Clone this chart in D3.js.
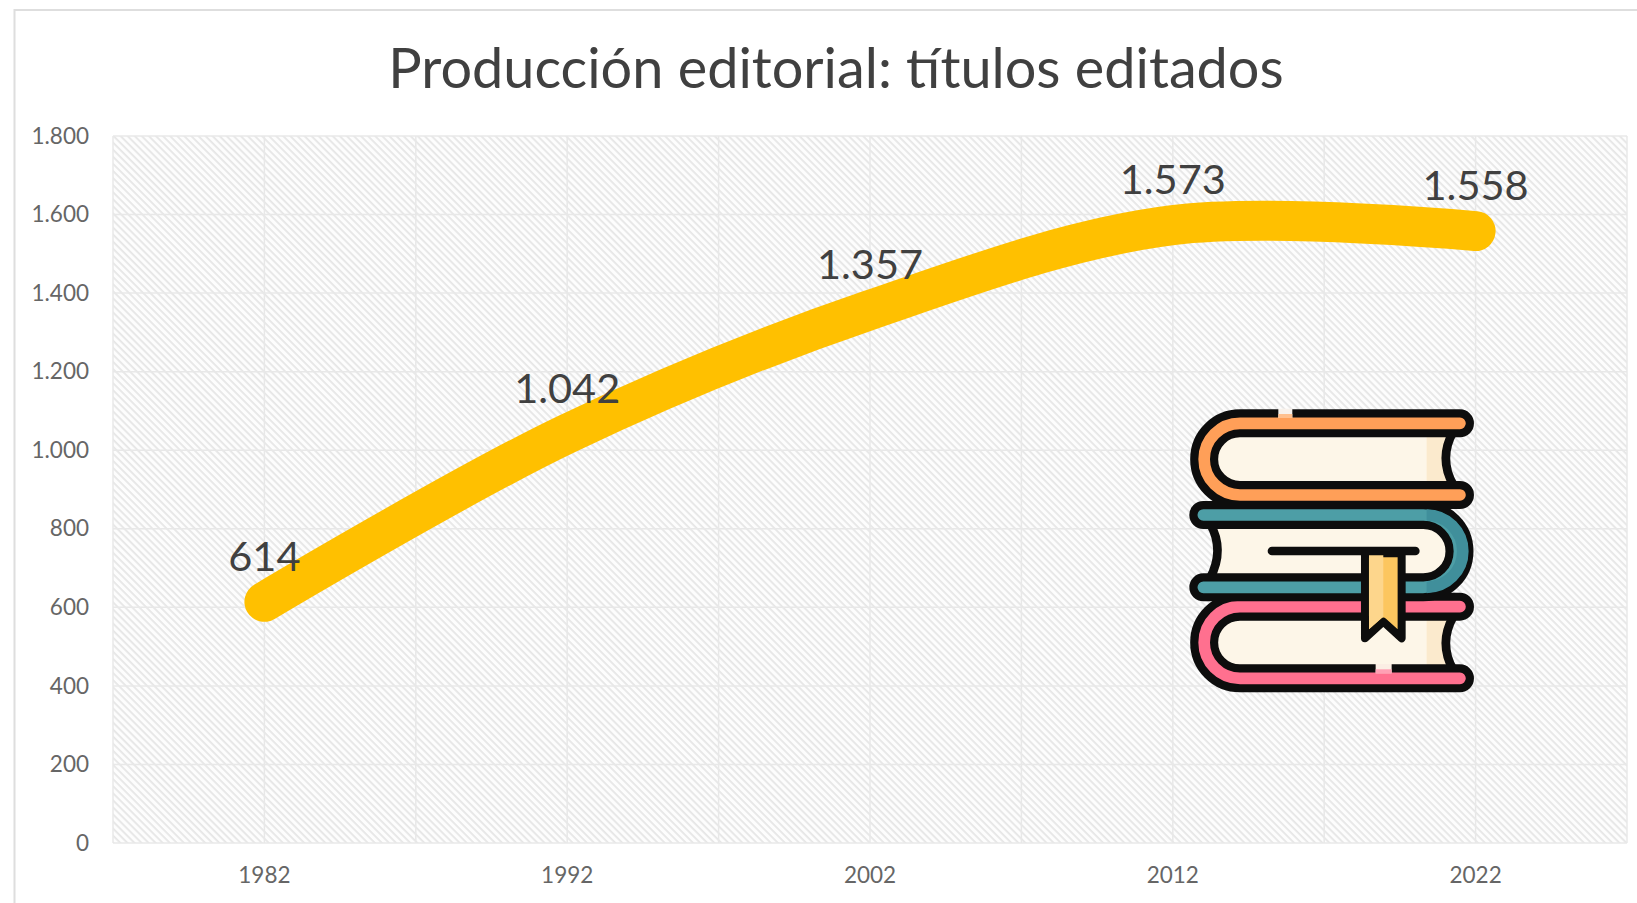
<!DOCTYPE html>
<html><head><meta charset="utf-8">
<script src="https://cdn.jsdelivr.net/npm/d3@7"></script>
<style>html,body{margin:0;background:#fff}svg{display:block}text{font-family:Lato,sans-serif}</style>
</head><body><svg id="c" width="1637" height="903"></svg>
<script>
const chartTitle = "Producción editorial: títulos editados";
const years = ["1982","1992","2002","2012","2022"];
const titles = [614,1042,1357,1573,1558];
const yTicks = [0,200,400,600,800,1000,1200,1400,1600,1800];

const L=113,R=1627,T=136,B=843;
const svg=d3.select("#c");
const fmt=d3.formatLocale({decimal:",",thousands:".",grouping:[3],currency:["","€"]}).format(",d");
const x=d3.scaleBand().domain(years).range([L,R]);
const cx=d=>x(d)+x.bandwidth()/2;
const y=d3.scaleLinear().domain([0,1800]).range([B,T]);

const defs=svg.append("defs");
const p=defs.append("pattern").attr("id","hatch").attr("width",5).attr("height",5)
  .attr("patternUnits","userSpaceOnUse").attr("patternTransform","rotate(45)");
p.append("rect").attr("width",5).attr("height",5).attr("fill","#fdfdfd");
p.append("rect").attr("width",5).attr("height",1.8).attr("fill","#e6e6e6");
defs.append("filter").attr("id","soft").append("feGaussianBlur").attr("stdDeviation",0.5);

svg.append("rect").attr("x",14.5).attr("y",10).attr("width",1700).attr("height",1000)
  .attr("fill","#fff").attr("stroke","#dedede").attr("stroke-width",2);

svg.append("rect").attr("x",L).attr("y",T).attr("width",R-L).attr("height",B-T).attr("fill","url(#hatch)");

// grid
const vGrid=[L,...years.map(cx),...years.map(d=>x(d)+x.bandwidth())];
svg.append("g").selectAll("line").data(vGrid).join("line")
  .attr("x1",d=>d).attr("x2",d=>d).attr("y1",T).attr("y2",B).attr("stroke","#e8e8e8").attr("stroke-width",1.5);
svg.append("g").selectAll("line").data(yTicks).join("line")
  .attr("x1",L).attr("x2",R).attr("y1",d=>y(d)).attr("y2",d=>y(d)).attr("stroke","#e8e8e8").attr("stroke-width",1.5);

// axes
const ya=svg.append("g").attr("transform",`translate(${L},0)`)
  .call(d3.axisLeft(y).tickValues(yTicks).tickSize(0).tickPadding(24).tickFormat(fmt));
ya.select(".domain").remove();
ya.selectAll("text").attr("font-size",22.5).attr("fill","#666").style("font-family","Lato,sans-serif");
const xa=svg.append("g").attr("transform",`translate(0,${B})`)
  .call(d3.axisBottom(x).tickSize(0).tickPadding(24));
xa.select(".domain").remove();
xa.selectAll("text").attr("font-size",22.5).attr("fill","#666").style("font-family","Lato,sans-serif");

// icon
const ic=svg.append("g").attr("transform","translate(1170,390) scale(0.3333)").attr("filter","url(#soft)");
const K="#0b0b0b";
function pages(d,shade){
  ic.append("path").attr("d",d).attr("fill","#fdf6e8");
  if(shade) ic.append("path").attr("d",shade).attr("fill","#fbeacd");
}
function cover(d,c){
  ic.append("path").attr("d",d).attr("fill","none").attr("stroke",K).attr("stroke-width",84).attr("stroke-linecap","round");
  ic.append("path").attr("d",d).attr("fill","none").attr("stroke",c).attr("stroke-width",35).attr("stroke-linecap","round");
}
function edge(d){ic.append("path").attr("d",d).attr("fill","none").attr("stroke",K).attr("stroke-width",26);}
// pink book
pages("M130,680 H850 Q805,760 850,840 H130 Z","M770,680 H850 Q805,760 850,840 H770 Z");
edge("M850,680 Q805,760 850,840");
cover("M870,650 H210 A107.5,107.5 0 0 0 210,865 H870","#ff6f8f");
ic.append("rect").attr("x",617).attr("y",822).attr("width",48).attr("height",28).attr("fill","#fbeee4");
ic.append("rect").attr("x",617).attr("y",838).attr("width",48).attr("height",12).attr("fill","#ffa0b4");
// orange book
pages("M130,125 H850 Q805,205 850,285 H130 Z","M770,125 H850 Q805,205 850,285 H770 Z");
edge("M850,125 Q805,205 850,285");
cover("M870,100 H210 A107.5,107.5 0 0 0 210,315 H870","#ff9f58");
ic.append("rect").attr("x",325).attr("y",56).attr("width",42).attr("height",28).attr("fill","#f8f2ec");
ic.append("rect").attr("x",325).attr("y",72).attr("width",42).attr("height",12).attr("fill","#ffc08e");
// teal book
pages("M120,400 H830 V560 H120 Q165,480 120,400 Z",null);
edge("M120,400 Q165,480 120,565");
cover("M100,375 H760 A108.5,108.5 0 0 1 760,592 H100","#4d9ea6");
ic.append("path").attr("d","M770,375 A108.5,108.5 0 0 1 770,592").attr("fill","none").attr("stroke","#3f8f9b").attr("stroke-width",35);
// bookmark
ic.append("path").attr("d","M306,483 H736").attr("stroke",K).attr("stroke-width",26).attr("stroke-linecap","round");
ic.append("path").attr("d","M585,490 V745 L640,695 L695,745 V490 Z").attr("fill","#fcc65f").attr("stroke",K).attr("stroke-width",24).attr("stroke-linejoin","round");
ic.append("path").attr("d","M597,496 V718 L640,680 V496 Z").attr("fill","#fdd68c");

// line
const pts=years.map((d,i)=>[cx(d),y(titles[i])]);
svg.append("path").attr("d",d3.line().curve(d3.curveCatmullRom.alpha(1))(pts))
  .attr("fill","none").attr("stroke","#ffc000").attr("stroke-width",40).attr("stroke-linecap","round");

// labels
svg.append("g").selectAll("text").data(years).join("text")
  .attr("x",d=>cx(d)).attr("y",(d,i)=>y(titles[i])-31).attr("text-anchor","middle")
  .attr("font-size",41.5).attr("fill","#404040").text((d,i)=>fmt(titles[i]));

svg.append("text").attr("x",836).attr("y",88).attr("text-anchor","middle")
  .attr("font-size",55.8).attr("fill","#404040").text(chartTitle);
</script></body></html>
